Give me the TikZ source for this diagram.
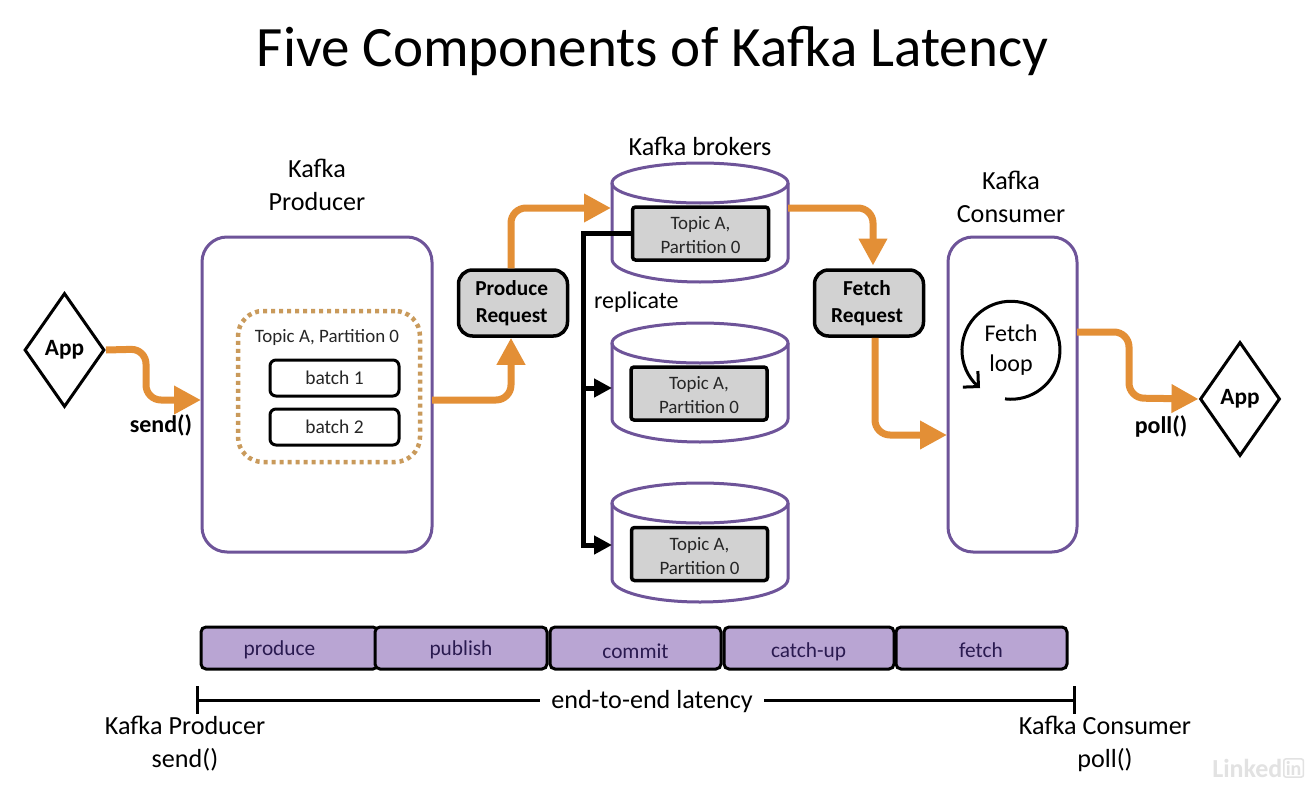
\documentclass[tikz,border=0pt]{standalone}
\usepackage{fontspec}
\setmainfont{Carlito}
\usetikzlibrary{arrows.meta,shapes.geometric,calc}
\definecolor{korange}{HTML}{E38F36}
\definecolor{kpurple}{HTML}{6E5499}
\definecolor{kdot}{HTML}{C99A5B}
\definecolor{kgrey}{HTML}{D2D2D2}
\definecolor{kbar}{HTML}{B9A5D3}
\definecolor{kbartext}{HTML}{2A1A50}
\definecolor{kmark}{HTML}{E2E2E2}
\def\px{0.75pt}
\newcommand{\fs}[2]{\fontsize{#1}{#2}\selectfont}
\newcommand{\topictext}{\rule{0pt}{12.5pt}Topic A,\\Partition 0}
\tikzset{
  x=0.75pt,y=-0.75pt,
  txt/.style={inner sep=0pt,outer sep=0pt,align=center,text=black,font=\fs{19.6}{24.6}},
  small/.style={inner sep=0pt,outer sep=0pt,align=center,text=black!85,font=\fs{14.2}{18}},
  boldtxt/.style={inner sep=0pt,outer sep=0pt,align=center,text=black,font=\fs{18}{20}\bfseries},
  appd/.style={diamond,draw=black,line width=3*\px,minimum width=80*\px,minimum height=114*\px,inner sep=0pt,shape aspect=0.7,font=\fs{17.5}{18}\bfseries},
  bigbox/.style={draw=kpurple,line width=3*\px,rounded corners=25*\px,inner sep=0pt},
  batchbox/.style={draw=black,line width=3*\px,rounded corners=6*\px,inner sep=0pt,minimum width=129*\px,minimum height=36*\px,font=\fs{14.6}{17},text=black!85},
  reqbox/.style={draw=black,fill=kgrey,line width=3.5*\px,rounded corners=14*\px,inner sep=0pt,minimum width=109*\px,minimum height=66*\px,align=center,font=\fs{16}{20.5}\bfseries},
  topicbox/.style={draw=black,fill=kgrey,line width=3.5*\px,rounded corners=3*\px,inner sep=0pt,minimum width=136*\px,minimum height=53*\px,align=center,font=\fs{14.2}{18},text=black!85},
  barbox/.style={draw=black,fill=kbar,line width=3*\px,rounded corners=5*\px,inner sep=0pt,minimum height=42*\px},
  bartxt/.style={inner sep=0pt,font=\fs{16}{17},text=kbartext},
  flow/.style={draw=korange,line width=7*\px,rounded corners=15*\px,-{Triangle[length=27*\px,width=27*\px]}},
  repl/.style={draw=black,line width=5*\px,-{Triangle[length=18*\px,width=18*\px]}},
  tick/.style={draw=black,line width=3*\px},
  cylline/.style={draw=kpurple,line width=3*\px}
}
\newcommand{\cyl}[2]{%
  \coordinate (#1) at (700,#2);
  \draw[cylline] (700,#2+20) ellipse [x radius=88*\px,y radius=20*\px];
  \draw[cylline] (612,#2+20) -- (612,#2+96) arc [start angle=180,end angle=360,x radius=88*\px,y radius=23*\px] -- (788,#2+20);
}
\begin{document}
\begin{tikzpicture}
\useasboundingbox[fill=white] (0,0) rectangle (1306,792);

% title
\node[inner sep=0pt,font=\fs{42.8}{45}] (title) at (652.5,51) {Five Components of Kafka Latency};

% apps
\node[appd] (appL) at (64.5,350) {App};
\node[appd] (appR) at (1240,399) {App};

% producer
\node[bigbox,minimum width=230*\px,minimum height=315*\px] (prod) at (317,394.5) {};
\node[txt] (prodlabel) at (317,185) {Kafka\\Producer};
\node[draw=kdot,line width=4.5*\px,rounded corners=25*\px,dash pattern=on 4*\px off 4*\px,minimum width=182*\px,minimum height=151*\px,inner sep=0pt] (buf) at (329,386.5) {};
\node[small] (buflabel) at (327,337) {Topic A, Partition 0};
\node[batchbox] (b1) at (334.5,378) {batch 1};
\node[batchbox] (b2) at (334.5,427) {batch 2};

% requests
\node[reqbox] (prq) at (513,303) {\hspace*{-2pt}Produce\\\hspace*{-2pt}Request};
\node[reqbox] (frq) at (869,303) {\hspace*{-3pt}Fetch\\\hspace*{-3pt}Request};

% brokers
\cyl{cylA}{163}
\cyl{cylB}{323}
\cyl{cylC}{483}
\node[txt] (brokerlabel) at (700,146) {Kafka brokers};
\node[topicbox] (t1) at (700.5,233.5) {\topictext};
\node[topicbox] (t2) at (699,393.5) {\topictext};
\node[topicbox] (t3) at (699.5,554) {\topictext};
\node[txt,anchor=west,font=\fs{18}{22}] (repl) at (594,302) {replicate};

% consumer
\node[bigbox,minimum width=129*\px,minimum height=315*\px] (cons) at (1012.5,394.5) {};
\node[txt] (conslabel) at (1011,197) {Kafka\\Consumer};
\node[circle,inner sep=0pt,minimum size=98*\px,align=center,font=\fs{18}{22}] (loop) at (1011,350) {Fetch\\loop};
\coordinate (loopTip) at (980,388);
\draw[line width=3*\px,-{Straight Barb[length=11*\px,width=22*\px]}] (loop.-97) arc [start angle=-97,delta angle=318,radius=49*\px] -- (loopTip);

% connector anchors
\coordinate (sendIn) at (201,400);
\coordinate (prodOut) at (432,400);
\coordinate (brokIn) at (611,208);
\coordinate (brokOut) at (788,208);
\coordinate (consIn) at (947,435);
\coordinate (consOut) at (1077,332);
\coordinate (rJoinA) at (583,388);
\coordinate (rInB) at (612,388);
\coordinate (rInC) at (612,545);

% orange flows
\draw[flow] (appL.east) -- (146,349) -- (146,400) -- (sendIn);
\draw[flow] (prodOut) -- (511,400) -- ([xshift=-1.5pt]prq.south);
\draw[flow] ([xshift=-1.5pt]prq.north) -- (511,208) -- (brokIn);
\draw[flow] (brokOut) -- (873,208) -- ([xshift=3pt,yshift=2pt]frq.north);
\draw[flow] ([xshift=4.5pt]frq.south) -- (875,435) -- (consIn);
\draw[flow] (consOut) -- (1129,332) -- (1129,398) -- (appR.west);

% replication
\draw[repl] (t1.west) -- (583,233.5) -- (583,545) -- (rInC);
\draw[repl] (rJoinA) -- (rInB);

% labels
\node[boldtxt] (sendl) at (161,425) {send()};
\node[boldtxt] (polll) at (1161,426) {poll()};

% bars
\node[barbox,minimum width=177*\px] (p1) at (289.5,648) {};
\node[barbox,minimum width=172*\px] (p2) at (461,648) {};
\node[barbox,minimum width=171*\px] (p3) at (635.5,648) {};
\node[barbox,minimum width=170*\px] (p4) at (809,648) {};
\node[barbox,minimum width=171*\px] (p5) at (981.5,648) {};
\node[bartxt] (p1t) at (279.5,649.5) {produce};
\node[bartxt] (p2t) at (461,649.5) {publish};
\node[bartxt] (p3t) at (635.5,651) {commit};
\node[bartxt] (p4t) at (808.5,651.5) {catch-up};
\node[bartxt] (p5t) at (981,650) {fetch};

% end to end
\node[txt] (e2e) at (652,701.5) {end-to-end latency};
\coordinate (lt) at (197,686);
\coordinate (lb) at (197,714);
\coordinate (lm) at (197,700);
\coordinate (rt) at (1074,686);
\coordinate (rb) at (1074,714);
\coordinate (rm) at (1074,700);
\draw[tick] (lt) -- (lb);
\draw[tick] (rt) -- (rb);
\draw[tick] (lm) -- (540,700);
\draw[tick] (764,700) -- (rm);
\node[txt] (leftl) at (185,743.5) {Kafka Producer\\send()};
\node[txt] (rightl) at (1105,743.5) {Kafka Consumer\\poll()};

% watermark
\node[inner sep=0pt,anchor=west,text=kmark,font=\fs{19.5}{21}\bfseries] (wm1) at (1212,768) {Linked};
\node[draw=kmark,line width=1.5*\px,rounded corners=2*\px,inner sep=1.5pt,anchor=west,text=kmark,font=\fs{15}{16}\bfseries] (wm2) at (1283,768) {in};
\end{tikzpicture}
\end{document}
